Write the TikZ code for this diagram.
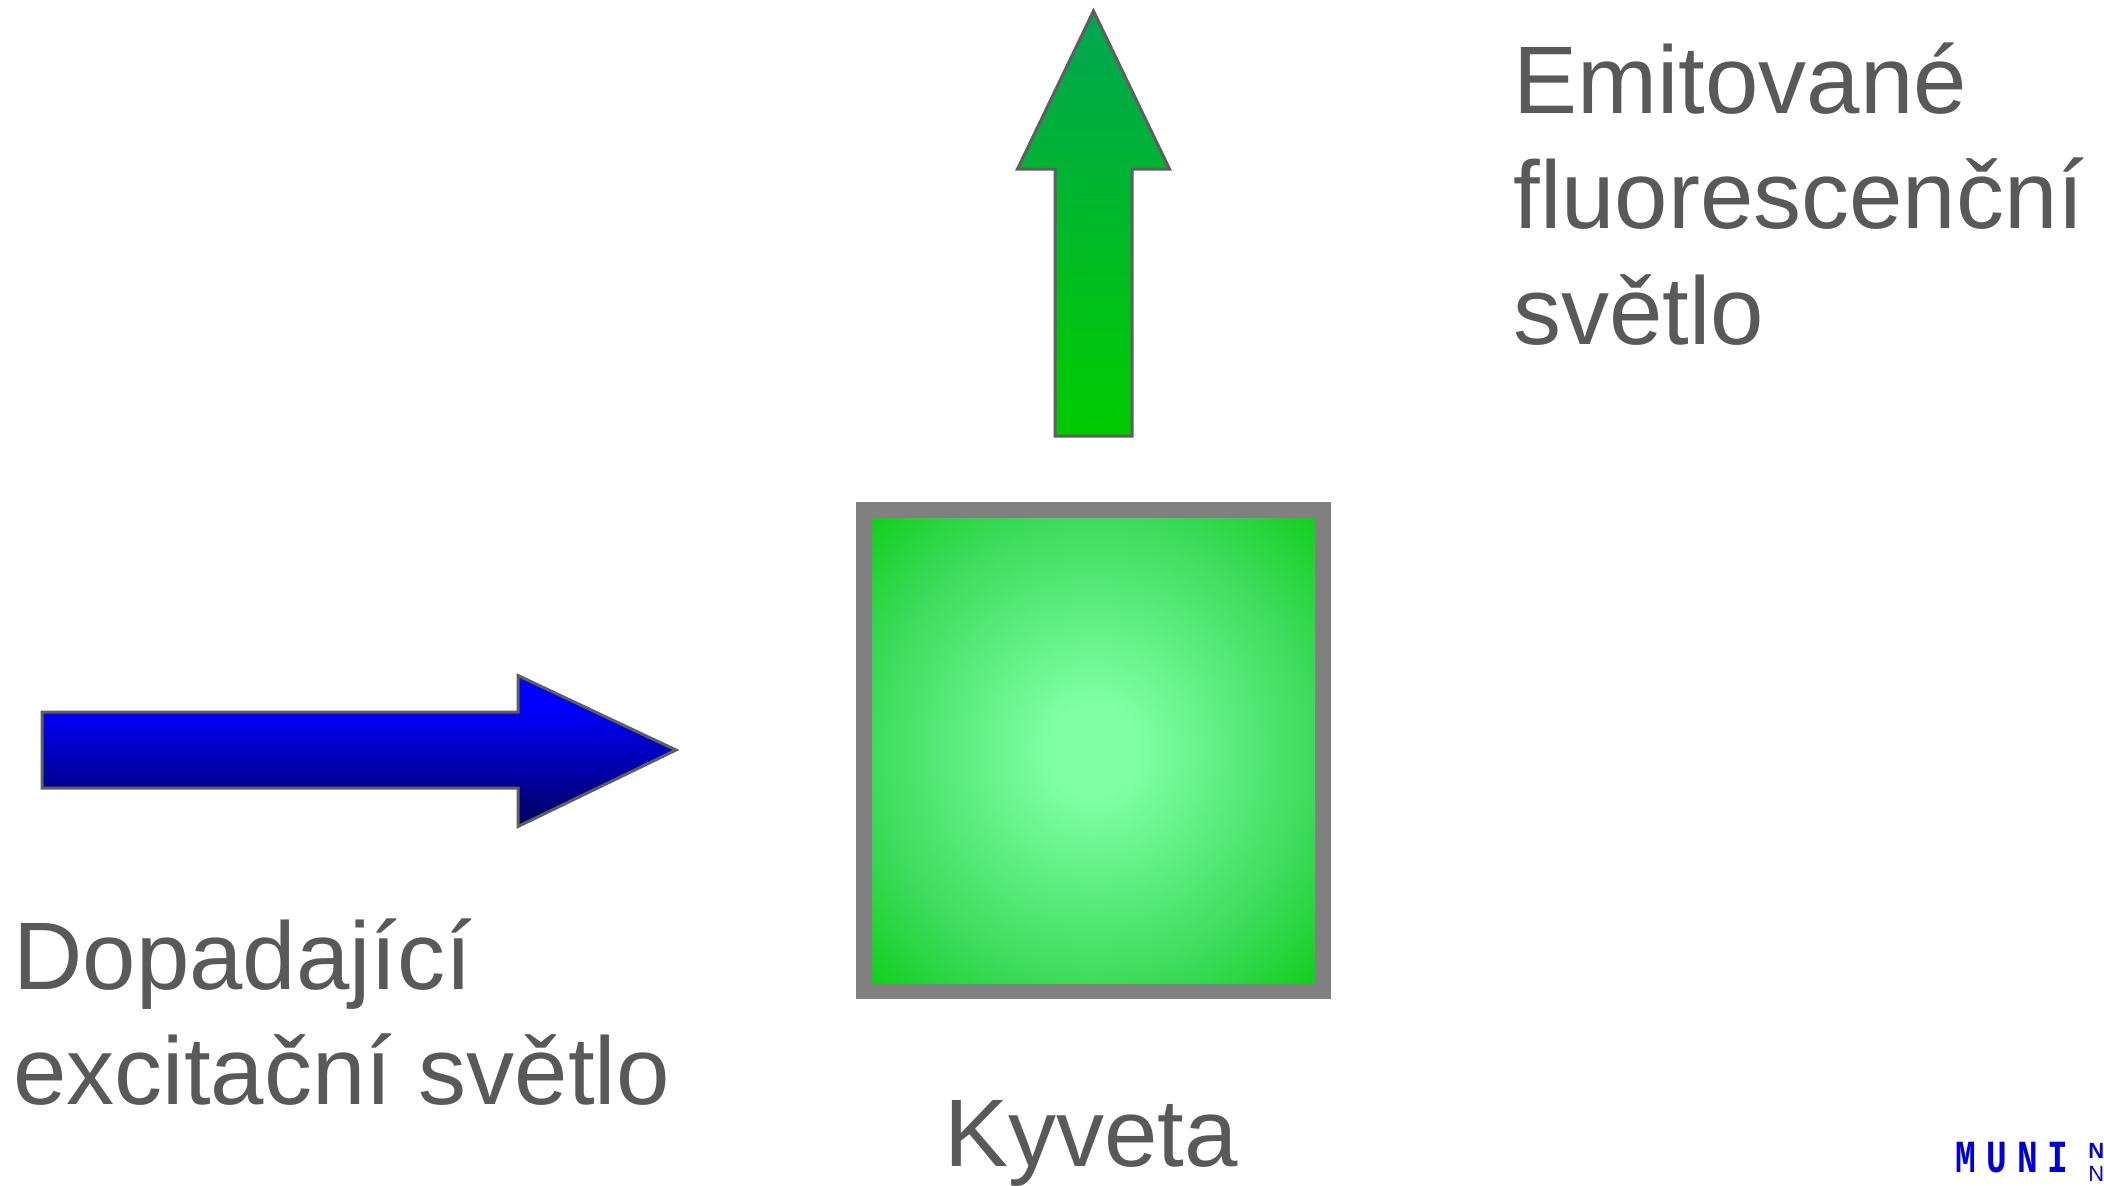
\documentclass[tikz,border=0pt]{standalone}
\usepackage{fontspec}
\setmainfont{Liberation Sans}
\newfontfamily\munifont[FakeStretch=0.75,LetterSpace=22]{Liberation Mono}
\definecolor{labelgray}{RGB}{89,89,89}
\definecolor{arrowline}{RGB}{95,95,95}
\definecolor{cuvettegray}{RGB}{128,128,128}
\definecolor{muniblue}{RGB}{0,0,220}
\pgfdeclareverticalshading{blueshade}{100bp}{rgb(0bp)=(0,0,0.36); rgb(25bp)=(0,0,0.36); rgb(65bp)=(0,0,1); rgb(100bp)=(0,0,1)}
\pgfdeclareverticalshading{greenshade}{100bp}{rgb(0bp)=(0,0.8,0); rgb(25bp)=(0,0.8,0); rgb(75bp)=(0,0.65,0.32); rgb(100bp)=(0,0.65,0.32)}
\pgfdeclareradialshading{cuvetteshade}{\pgfpoint{0bp}{0bp}}{rgb(0bp)=(0.5,1,0.65); rgb(5bp)=(0.5,1,0.65); rgb(25bp)=(0.24,0.86,0.36); rgb(35.4bp)=(0.07,0.81,0.12)}
\tikzset{label text/.style={anchor=north west,align=left,inner sep=0pt,text=labelgray,font=\fontsize{48}{57.8}\selectfont}}
\tikzset{arrow shape/.style={draw=arrowline,line width=1.5,line join=miter}}
\begin{document}
\begin{tikzpicture}[x=0.5pt,y=-0.5pt]
  \useasboundingbox (0,0) rectangle (2104,1185);

  % cuvette
  \fill[cuvettegray] (856,502) rectangle (1331,999);
  \path[shading=cuvetteshade] (872,518) rectangle (1315,983);

  % arrows
  \draw[arrow shape,shading=blueshade] (42,712) -- (518,712) -- (518,675.5) -- (676,750) -- (518,826.5) -- (518,788) -- (42,788) -- cycle;
  \draw[arrow shape,shading=greenshade] (1093.5,11) -- (1169.5,169) -- (1132,169) -- (1132,436) -- (1055,436) -- (1055,169) -- (1017.5,169) -- cycle;

  % labels
  \node (emitted) [label text] at (1513,42) {Emitované\\fluorescenční\\světlo};
  \node (incident) [label text] at (13,918) {Dopadající\\excitační světlo};
  \node (cuvette) [label text] at (944,1100) {Kyveta};

  % logo
  \node (muni) [anchor=base west,inner sep=0pt,text=muniblue,font=\munifont\bfseries\fontsize{23}{23}\selectfont] at (1955,1172) {MUNI};
  \node (logoa) [anchor=base west,inner sep=0pt,text=muniblue,font=\bfseries\fontsize{11}{11}\selectfont] at (2088,1158) {N};
  \node (logob) [anchor=base west,inner sep=0pt,text=muniblue,font=\fontsize{11}{11}\selectfont] at (2088,1181) {N};
\end{tikzpicture}
\end{document}
